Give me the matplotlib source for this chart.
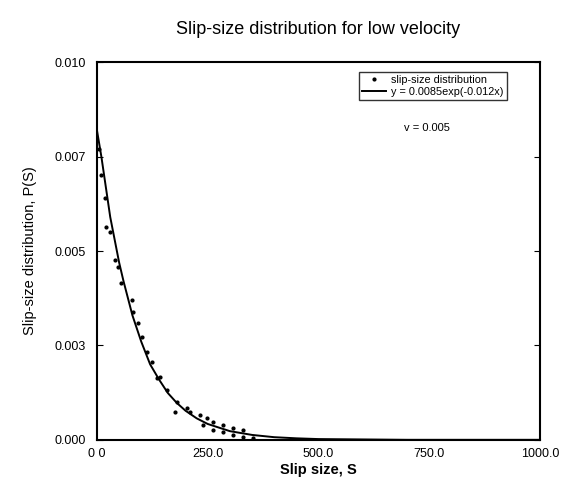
import matplotlib
matplotlib.use("Agg")
import matplotlib.pyplot as plt

plt.rcParams['font.family'] = ['Liberation Sans', 'DejaVu Sans']

# fitted curve
fit_x = [0, 10, 20, 30, 40, 50, 60, 80, 100, 120, 140, 160, 180, 200, 225,
         250, 300, 350, 400, 450, 500, 600, 700, 800, 900, 1000]
fit_y = [0.0082, 0.0075, 0.0067, 0.0059, 0.0053, 0.0047, 0.0042, 0.0033,
         0.0026, 0.0020, 0.0016, 0.00124, 0.00098, 0.00077, 0.00057,
         0.00042, 0.00023, 0.00013, 0.00007, 0.00004, 0.00002, 0.00001,
         0.0, 0.0, 0.0, 0.0]

# slip-size distribution points
pts_x = [4, 9, 18, 20, 29, 41, 48, 54, 79, 81, 93, 102, 113, 124, 136, 143,
         158, 176, 181, 204, 210, 233, 240, 249, 262, 262, 285, 285, 308,
         308, 330, 330, 353]
pts_y = [0.0077, 0.00700, 0.00640, 0.00563, 0.00550, 0.00476, 0.00458,
         0.00415, 0.00370, 0.00339, 0.00310, 0.00272, 0.00233, 0.00206,
         0.00164, 0.00167, 0.00132, 0.00074, 0.00101, 0.00085, 0.00074,
         0.00066, 0.00040, 0.00058, 0.00048, 0.00026, 0.00040, 0.00021,
         0.00032, 0.00013, 0.00026, 0.00008, 0.00005]

x_ticks = [0, 250, 500, 750, 1000]
x_labels = ["0 0", "250.0", "500.0", "750.0", "1000.0"]
y_ticks = [0.0, 0.0025, 0.005, 0.0075, 0.010]
y_labels = ["0.000", "0.003", "0.005", "0.007", "0.010"]

fig = plt.figure(figsize=(5.77, 4.86), dpi=100)
ax = fig.add_axes([0.168, 0.095, 0.768, 0.777])

ax.plot(pts_x, pts_y, '.', color='black', markersize=4,
        label='slip-size distribution')
ax.plot(fit_x, fit_y, '-', color='black', linewidth=1.4,
        label='y = 0.0085exp(-0.012x)')

ax.set_xlim(0, 1000)
ax.set_ylim(0, 0.010)
ax.set_xticks(x_ticks)
ax.set_xticklabels(x_labels, fontsize=9)
ax.set_yticks(y_ticks)
ax.set_yticklabels(y_labels, fontsize=9)
ax.tick_params(axis='y', direction='in', length=4, right=True, pad=8)
ax.tick_params(axis='x', direction='in', length=0, pad=6)

for s in ax.spines.values():
    s.set_linewidth(1.5)

ax.set_xlabel("Slip size, S", fontsize=10.5, fontweight='bold', labelpad=2)
ax.set_ylabel("Slip-size distribution, P(S)", fontsize=10.5)
ax.yaxis.set_label_coords(-0.135, 0.5)
ax.set_title("Slip-size distribution for low velocity", fontsize=13, pad=20)

leg = ax.legend(loc='upper right', bbox_to_anchor=(0.925, 0.975),
                fontsize=7.8, frameon=True, fancybox=False, handlelength=2.2,
                borderpad=0.3, labelspacing=0.2, handletextpad=0.5,
                borderaxespad=0)
leg.get_frame().set_edgecolor('black')
leg.get_frame().set_linewidth(1.0)

ax.text(0.745, 0.825, "v = 0.005", transform=ax.transAxes, fontsize=8,
        ha='center', va='center')

fig.savefig("out.png", dpi=100)
